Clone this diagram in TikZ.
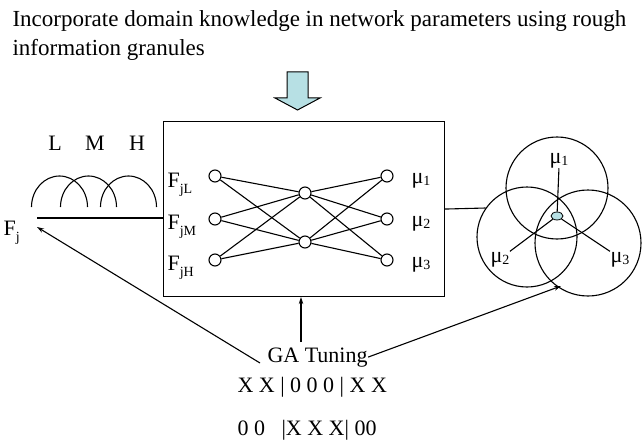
\documentclass[tikz,border=0pt]{standalone}
\usepackage{fontspec}
\setmainfont{Liberation Serif}
\usetikzlibrary{arrows.meta,shapes.geometric}
\definecolor{arrowblue}{RGB}{183,224,228}
\newcommand{\lowsub}[1]{\raisebox{-0.28em}{\fontsize{14}{14}\selectfont #1}}
\newcommand{\musub}[1]{\raisebox{-0.12em}{\fontsize{14}{14}\selectfont #1}}
\begin{document}
\begin{tikzpicture}[x=1pt,y=-1pt,line width=1.1pt,
  lbl/.style={inner sep=0pt,font=\fontsize{22}{26}\selectfont},
  ttl/.style={inner sep=0pt,font=\fontsize{23}{27}\selectfont,anchor=base west},
  neuron/.style={circle,draw,fill=white,minimum size=12pt,inner sep=0pt},
  granule/.style={circle,draw,inner sep=0pt},
  tip/.style={-{Stealth[length=7pt,width=4.5pt]}}]
\useasboundingbox[fill=white] (0,0) rectangle (642,441);

% title
\node[ttl] (title1) at (12,27) {Incorporate domain knowledge in network parameters using rough};
\node[ttl] (title2) at (12,56) {information granules};

% block arrow
\draw[fill=arrowblue,line width=1pt,line join=miter]
  (287,72) -- (308,72) -- (308,98) -- (320,98) -- (297.5,110) -- (275,98) -- (287,98) -- cycle;

% network box
\node[draw,minimum width=281pt,minimum height=175pt,inner sep=0pt,anchor=north west] (box) at (163,121) {};

% neurons
\node[neuron] (i1) at (215,176) {};
\node[neuron] (i2) at (215,219) {};
\node[neuron] (i3) at (215,260) {};
\node[neuron] (h1) at (305,193) {};
\node[neuron] (h2) at (305,242) {};
\node[neuron] (o1) at (387,176) {};
\node[neuron] (o2) at (387,219) {};
\node[neuron] (o3) at (387,260) {};
\foreach \a in {i1,i2,i3} \foreach \b in {h1,h2} \draw (\a) -- (\b);
\foreach \a in {o1,o2,o3} \foreach \b in {h1,h2} \draw (\a) -- (\b);

% input / output labels
\node[lbl,anchor=base west] (fl) at (167,187) {F\lowsub{jL}};
\node[lbl,anchor=base west] (fm) at (167,229) {F\lowsub{jM}};
\node[lbl,anchor=base west] (fh) at (167,270) {F\lowsub{jH}};
\node[lbl,anchor=base west] (m1) at (411,183) {μ\musub{1}};
\node[lbl,anchor=base west] (m2) at (411,226) {μ\musub{2}};
\node[lbl,anchor=base west] (m3) at (411,267) {μ\musub{3}};

% fuzzy sets L M H
\node[lbl,anchor=base] (L) at (55,150) {L};
\node[lbl,anchor=base] (M) at (95,150) {M};
\node[lbl,anchor=base] (H) at (137,150) {H};
\draw (31.5,207) arc[start angle=180,end angle=0,x radius=28pt,y radius=31pt];
\draw (60.5,207) arc[start angle=180,end angle=0,x radius=28pt,y radius=31pt];
\draw (100.5,207) arc[start angle=180,end angle=0,x radius=28pt,y radius=31pt];
\coordinate (fjline) at (37,218);
\draw (fjline) -- (box.west |- fjline);
\node[lbl,anchor=base west] (fj) at (3,235) {F\lowsub{j}};

% granules
\node[granule,minimum size=102pt] (cA) at (557,188) {};
\node[granule,minimum size=100pt] (cB) at (527,237) {};
\node[granule,minimum size=106pt] (cC) at (588,243) {};
\draw (box.east) -- (cB.145);
\node[draw,ellipse,fill=arrowblue,minimum width=12pt,minimum height=8pt,inner sep=0pt,line width=0.8pt] (core) at (557,216) {};
\node[lbl,anchor=base west] (cm1) at (549,163) {μ\musub{1}};
\node[lbl,anchor=base west] (cm2) at (490,262) {μ\musub{2}};
\node[lbl,anchor=base west] (cm3) at (610,262) {μ\musub{3}};
\draw (cm1.south) -- (core);
\draw (cm2.north east) -- (core);
\draw (cm3.north west) -- (core);

% GA tuning
\node[lbl,anchor=base west] (ga) at (267,362) {GA Tuning};
\node[lbl,anchor=base west] (c1) at (237,392) {X X | 0 0 0 | X X};
\node[lbl,anchor=base west] (c2) at (237,435) {0 0\ \ \ |X X X| 00};
\coordinate (leftstart) at (260,363);
\coordinate (fjtip) at (37,227);
\coordinate (upstart) at (301,342);
\coordinate (gatip) at (561,286);
\draw[tip] (leftstart) -- (fjtip);
\draw[tip] (upstart) -- (upstart |- box.south);
\draw[tip] (ga.east) -- (gatip);
\end{tikzpicture}
\end{document}
